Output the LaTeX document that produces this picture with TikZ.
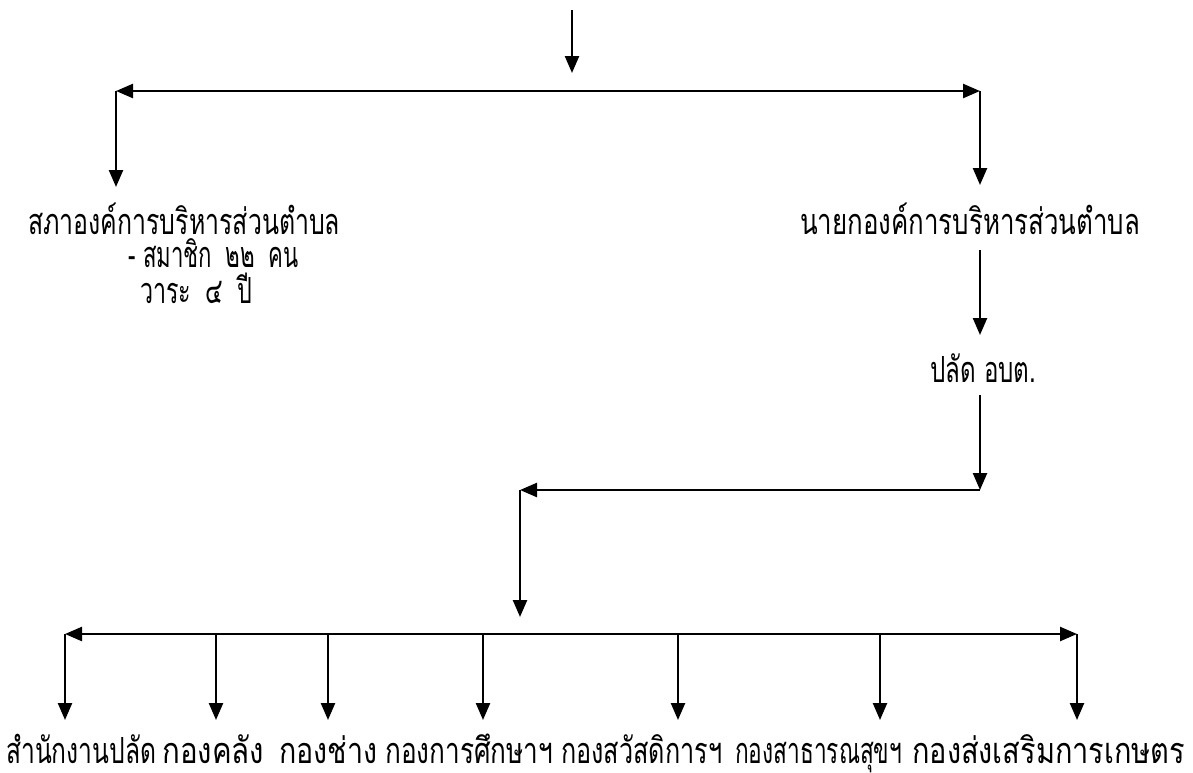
\documentclass[tikz,border=0pt]{standalone}
\usepackage{fontspec}
\usepackage{graphicx}
\newfontfamily\thaifont[Script=Thai]{Loma}
\usetikzlibrary{arrows.meta}
\newcommand\fitto[2]{\resizebox{#1pt}{\height}{#2}}
\begin{document}
\begin{tikzpicture}[x=1pt,y=-1pt,
  tip/.tip={Triangle[width=14pt,length=17pt]},
  conn/.style={line width=2.4pt,-tip},
  conn2/.style={line width=2.4pt,tip-tip},
  lbl/.style={font=\thaifont\fontsize{36}{42}\selectfont,inner sep=0pt,anchor=base west}]
\useasboundingbox[fill=white] (0,0) rectangle (1193,772);
% coordinates
\coordinate (top) at (572,10);
\coordinate (topend) at (572,73);
\coordinate (L1) at (116,91);
\coordinate (R1) at (980,91);
\coordinate (L1d) at (116,187);
\coordinate (R1d) at (980,185);
\coordinate (N1) at (980,250);
\coordinate (N2) at (980,335);
\coordinate (P1) at (980,395);
\coordinate (P2) at (980,490);
\coordinate (H2) at (520,490);
\coordinate (H2d) at (520,617);
\coordinate (B1) at (65,634);
\coordinate (B7) at (1077,634);
% texts
\node[lbl] (sapha) at (28,234) {\fitto{312}{สภาองค์การบริหารส่วนตำบล}};
\node[lbl] (member) at (128,267) {\fitto{170}{- สมาชิก\hspace*{22pt}๒๒\hspace*{22pt}คน}};
\node[lbl] (term) at (140,303) {\fitto{112}{วาระ\hspace*{22pt}๔\hspace*{22pt}ปี}};
\node[lbl] (nayok) at (800,234) {\fitto{340}{นายกองค์การบริหารส่วนตำบล}};
\node[lbl] (palat) at (930,382) {\fitto{106}{ปลัด อบต.}};
\node[lbl] (t1) at (6,763) {\fitto{150}{สำนักงานปลัด}};
\node[lbl] (t2) at (162,763) {\fitto{102}{กองคลัง}};
\node[lbl] (t3) at (279,763) {\fitto{98}{กองช่าง}};
\node[lbl] (t4) at (385,763) {\fitto{168}{กองการศึกษาฯ}};
\node[lbl] (t5) at (561,763) {\fitto{161}{กองสวัสดิการฯ}};
\node[lbl] (t6) at (735,763) {\fitto{167}{กองสาธารณสุขฯ}};
\node[lbl] (t7) at (912,763) {\fitto{273}{กองส่งเสริมการเกษตร}};
% connectors
\draw[conn] (top) -- (topend);
\draw[conn2] (L1) -- (R1);
\draw[conn] (L1) -- (L1d);
\draw[conn] (R1) -- (R1d);
\draw[conn] (N1) -- (N2);
\draw[conn] (P1) -- (P2);
\draw[conn] (P2) -- (H2);
\draw[conn] (H2) -- (H2d);
\draw[conn2] (B1) -- (B7);
\foreach \x/\n in {65/1,216/2,328/3,483/4,678/5,880/6,1077/7}{
  \coordinate (b\n) at (\x,634);
  \coordinate (b\n d) at (\x,720);
  \draw[conn] (b\n) -- (b\n d);
}
\end{tikzpicture}
\end{document}
